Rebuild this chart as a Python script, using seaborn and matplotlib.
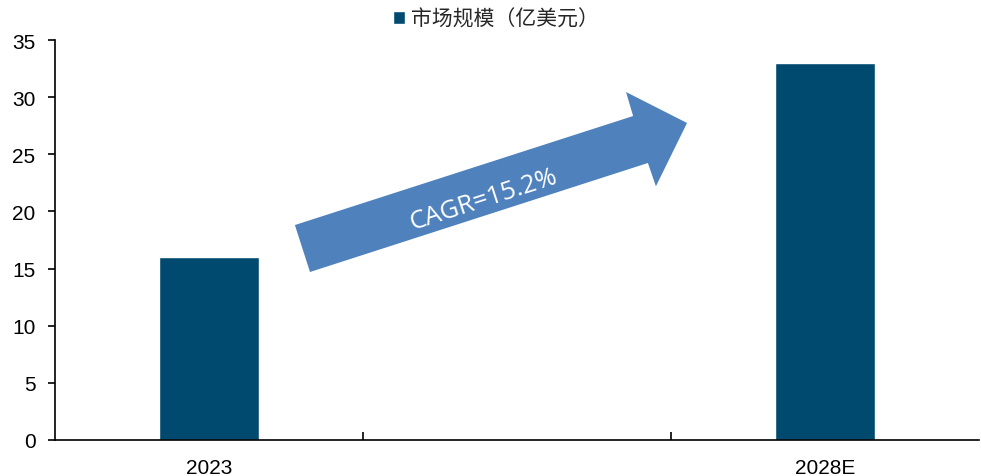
import matplotlib
matplotlib.use("Agg")
import matplotlib.pyplot as plt
import seaborn as sns
import pandas as pd
from matplotlib.patches import Polygon
from matplotlib.ticker import FixedLocator

categories = ["2023", " ", "2028E"]
years = ["2023", "2028E"]
market_size = [16, 33]
series_name = "市场规模（亿美元）"
cagr_label = "CAGR=15.2%"
y_ticks = [0, 5, 10, 15, 20, 25, 30, 35]

bar_color = "#014A6F"
arrow_color = "#4F81BD"

sns.set_theme(style="white")
plt.rcParams["font.family"] = ["Liberation Sans", "Noto Sans CJK SC", "DejaVu Sans"]

df = pd.DataFrame({"year": years, "value": market_size, "series": series_name})

fig = plt.figure(figsize=(9.81, 4.77), dpi=100)
ax = fig.add_axes([0.056, 0.0755, 0.942, 0.8385])

sns.barplot(data=df, x="year", y="value", order=categories, hue="series",
            palette=[bar_color], width=0.325, ax=ax, saturation=1)

ax.set_xlim(-0.5, 2.5)
ax.set_ylim(0, 35)
ax.set_yticks(y_ticks)
ax.set_xlabel("")
ax.set_ylabel("")

for s in ["top", "right"]:
    ax.spines[s].set_visible(False)
for s in ["left", "bottom"]:
    ax.spines[s].set_color("black")
    ax.spines[s].set_linewidth(1.2)

ax.tick_params(axis="y", which="major", direction="out", length=5, width=1.2,
               color="black", labelsize=15, labelcolor="black", left=True, pad=9)
ax.tick_params(axis="x", which="major", length=0, labelsize=15,
               labelcolor="black", pad=13)
ax.xaxis.set_minor_locator(FixedLocator([0.5, 1.5]))
ax.tick_params(axis="x", which="minor", direction="in", length=6, width=1.2,
               color="black", bottom=True)

# growth arrow (decoration)
arrow_pts = [(0.279, 18.81), (0.328, 14.7), (1.425, 24.24), (1.451, 22.2),
             (1.552, 27.74), (1.354, 30.45), (1.377, 28.35)]
ax.add_patch(Polygon(arrow_pts, closed=True, facecolor=arrow_color,
                     edgecolor="none", zorder=3))
ax.text(0.89, 21.1, cagr_label, rotation=18, color="white", fontsize=18.5,
        ha="center", va="center", family=["Open Sans", "DejaVu Sans"],
        rotation_mode="anchor", zorder=4)

handles, labels = ax.get_legend_handles_labels()
ax.get_legend().remove()
fig.legend(handles, labels, loc="center", bbox_to_anchor=(496 / 981, 1 - 20 / 477),
           frameon=False, handlelength=0.55, handleheight=0.55, handletextpad=0.3,
           borderpad=0, prop={"family": ["Noto Sans CJK SC", "DejaVu Sans"], "size": 15})

fig.savefig("out.png", dpi=100)
